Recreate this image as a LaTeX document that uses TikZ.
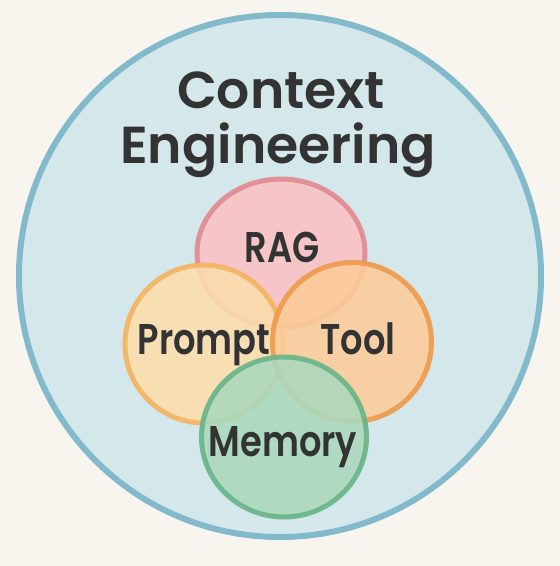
\documentclass[tikz,border=0pt]{standalone}
\usepackage{fontspec}
\usetikzlibrary{shapes.geometric}
\setmainfont{Poppins}[UprightFont=* SemiBold]
\newfontfamily\labelfont{Poppins}[UprightFont=* SemiBold,FakeStretch=0.82]
\definecolor{bgcream}{HTML}{F8F5EF}
\definecolor{outerfill}{HTML}{D4E7EB}
\definecolor{outerline}{HTML}{82B9CB}
\definecolor{ragfill}{HTML}{F5C5C8}
\definecolor{ragline}{HTML}{DF8A90}
\definecolor{promptfill}{HTML}{FDDDAC}
\definecolor{promptline}{HTML}{F3B460}
\definecolor{toolfill}{HTML}{FCCC9A}
\definecolor{toolline}{HTML}{EF9A4C}
\definecolor{memfill}{HTML}{AAD9BC}
\definecolor{memline}{HTML}{68B488}
\definecolor{inkgray}{HTML}{333333}
\tikzset{
  setcircle/.style={ellipse, line width=5pt, inner sep=0pt, fill opacity=0.88, draw opacity=0.9},
  title/.style={text=inkgray, font=\fontsize{52}{58}\selectfont, align=center},
  lbl/.style={text=inkgray, font=\labelfont\fontsize{43}{48}\selectfont, inner sep=0pt}
}
\begin{document}
\begin{tikzpicture}[x=1pt,y=-1pt]
\fill[bgcream] (0,0) rectangle (560,566);
\useasboundingbox (0,0) rectangle (560,566);
\node[circle, minimum size=522pt, inner sep=0pt, fill=outerfill, draw=outerline, line width=6pt] (outer) at (280,276) {};
\node[anchor=base, title] (ctx) at (281,108) {Context};
\node[anchor=base, title] (eng) at (278,163) {Engineering};
\node[setcircle, minimum width=168pt, minimum height=148pt, fill=ragfill, draw=ragline, fill opacity=1] (rag) at (281,253) {};
\node[setcircle, minimum width=158pt, minimum height=158pt, fill=promptfill, draw=promptline] (prompt) at (204,344) {};
\node[setcircle, minimum width=159pt, minimum height=159pt, fill=toolfill, draw=toolline] (tool) at (352,342) {};
\node[setcircle, minimum width=165pt, minimum height=160pt, fill=memfill, draw=memline] (memory) at (284,437) {};
\node[lbl, anchor=base] (ragl) at (282,262) {RAG};
\node[lbl, anchor=base] (promptl) at (204,354) {Prompt};
\node[lbl, anchor=base] (tooll) at (358,354) {Tool};
\node[lbl, anchor=base] (meml) at (283,456) {Memory};
\end{tikzpicture}
\end{document}
